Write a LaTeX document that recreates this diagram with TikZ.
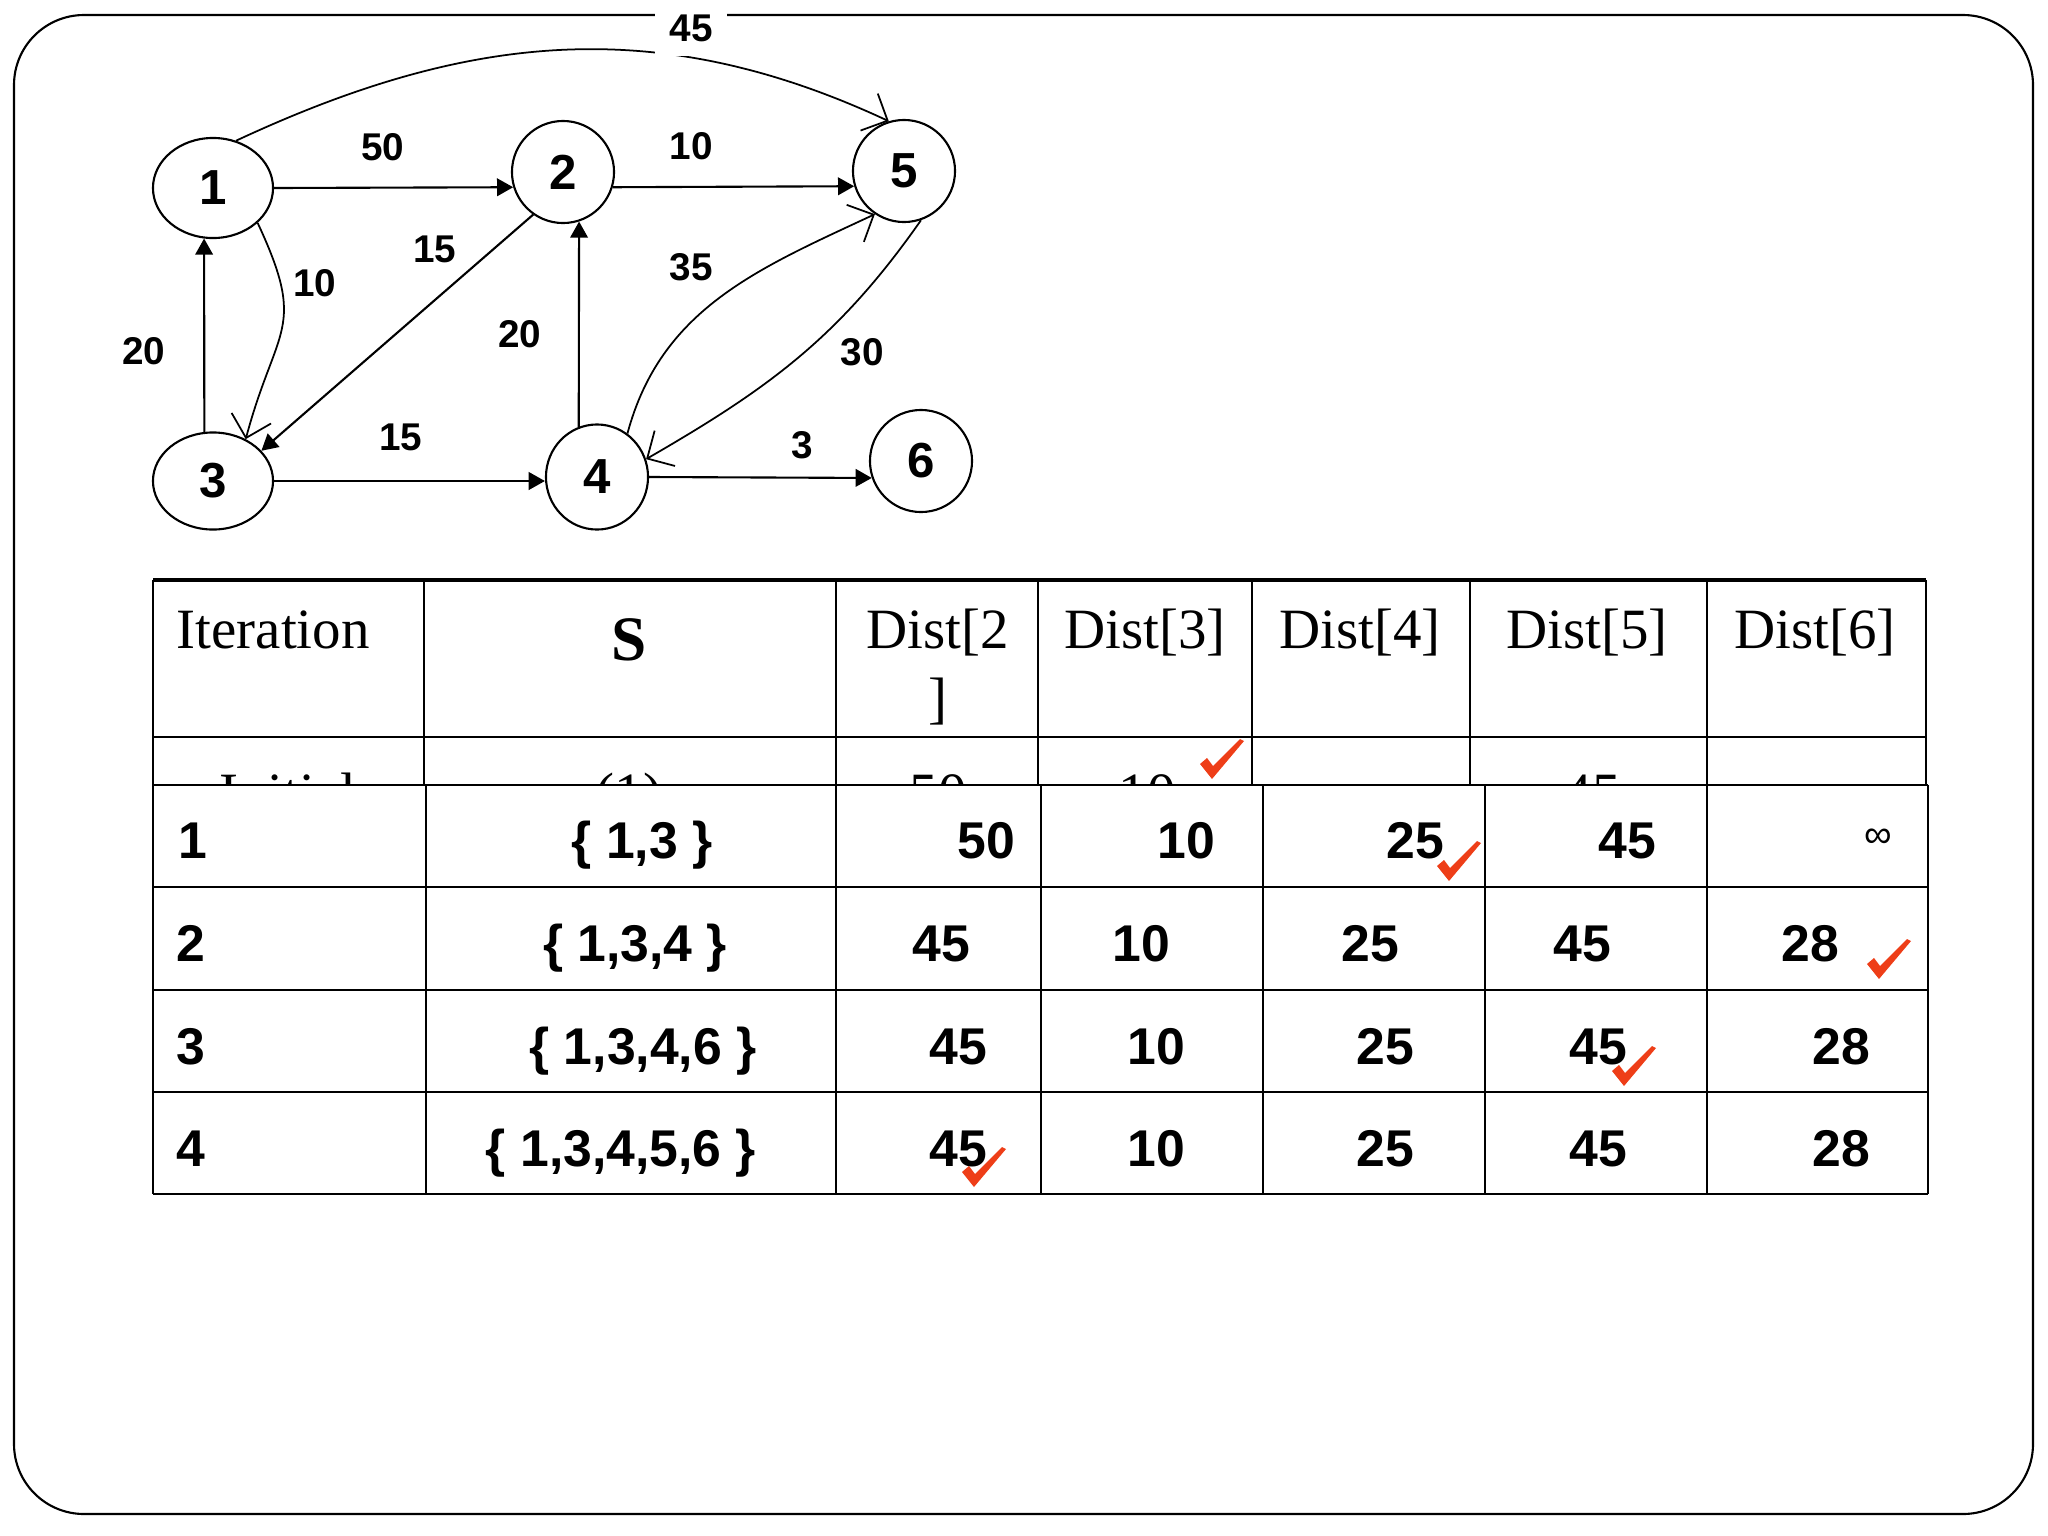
\documentclass[tikz,border=0pt]{standalone}
\usepackage{fontspec}
\setmainfont{Liberation Serif}
\newfontfamily\arialfont{Liberation Sans}
\usetikzlibrary{shapes.geometric, arrows.meta}
\definecolor{tickred}{RGB}{238,62,24}

\tikzset{
  vertex/.style={ellipse, draw, line width=0.6pt, inner sep=0pt, font=\arialfont\bfseries\fontsize{14}{16}\selectfont},
  wt/.style={font=\arialfont\bfseries\fontsize{11}{13}\selectfont, inner sep=1pt},
  fwd/.style={line width=0.6pt, -{Triangle[length=4.6pt,width=5pt]}},
  bent/.style={line width=0.5pt, -{Straight Barb[length=5.8pt,width=11.6pt]}},
  cell/.style={font=\arialfont\bfseries\fontsize{14.7}{17}\selectfont, anchor=base, inner sep=0pt},
  head/.style={font=\fontsize{16.2}{19.5}\selectfont, anchor=base, inner sep=0pt},
  redtick/.pic={\fill[tickred] (-11,-13) -- (-4,-19) -- (2,-11) -- (29,-38) -- (33,-36) -- (1,2) -- cycle;}
}

\begin{document}
\begin{tikzpicture}[x=0.01cm, y=-0.01cm]
    \useasboundingbox (0,0) rectangle (2048,1536);
    % Frame
    \draw[line width=0.6pt, rounded corners=0.7cm] (14,15) rectangle (2033,1514);

    % Draw nodes
    \node[vertex, minimum width=1.2cm, minimum height=1cm] (n1) at (213,188) {1};
    \node[vertex, minimum width=1.02cm, minimum height=1.02cm] (n2) at (563,172) {2};
    \node[vertex, minimum width=1.02cm, minimum height=1.02cm] (n5) at (904,171) {5};
    \node[vertex, minimum width=1.2cm, minimum height=0.97cm] (n3) at (213,481) {3};
    \node[vertex, minimum width=1.02cm, minimum height=1.05cm] (n4) at (597,477) {4};
    \node[vertex, minimum width=1.02cm, minimum height=1.02cm] (n6) at (921,461) {6};

    % Draw connections
    \draw[fwd] (n1.east) -- (n2.197);
    \draw[fwd] (n2.-17) -- (n5.197);
    \draw[fwd] (n3.100) -- (n1.260);
    \draw[fwd] (n4.110) -- (n2.-72);
    \draw[fwd] (n2.235) -- (n3.32);
    \draw[fwd] (n3.east) -- (n3.east -| n4.west);
    \draw[fwd] (n4.east) -- (n6.199);
    \draw[bent] (n1.64) to[out=25, in=155] (n5.107);
    \draw[bent] (n1.-38) to[out=-65, in=75, looseness=1.4] (n3.52);
    \draw[bent] (n4.55) to[out=75, in=205] (n5.236);
    \draw[bent] (n5.-71) to[out=235, in=30] (n4.20);

    % Labels
    \node[wt, fill=white, inner sep=4pt] (w15) at (691,28) {45};
    \node[wt] (w12) at (383,147) {50};
    \node[wt] (w25) at (691,146) {10};
    \node[wt] (w23) at (435,249) {15};
    \node[wt] (w13) at (315,283) {10};
    \node[wt] (w31) at (144,351) {20};
    \node[wt] (w42) at (520,334) {20};
    \node[wt] (w45) at (691,267) {35};
    \node[wt] (w54) at (862,352) {30};
    \node[wt] (w34) at (401,437) {15};
    \node[wt] (w46) at (802,445) {3};

    % Upper table
    \foreach \x in {424,836,1038,1252,1470,1707}
        \draw[line width=0.4pt] (\x,580) -- (\x,880);
    \foreach \x in {153,1926}
        \draw[line width=0.7pt] (\x,580) -- (\x,880);
    \draw[line width=0.9pt] (153,580) -- (1926,580);
    \draw[line width=0.8pt] (153,737) -- (1926,737);

    \node[head, anchor=base west] (hit) at (176,648) {Iteration};
    \node[head, font=\bfseries\fontsize{18}{20}\selectfont] (hs) at (629,660) {S};
    \node[head] (hd2) at (938,648) {Dist[2};
    \node[head] (hd2b) at (938,717) {]};
    \node[head] (hd3) at (1145,648) {Dist[3]};
    \node[head] (hd4) at (1360,648) {Dist[4]};
    \node[head] (hd5) at (1587,648) {Dist[5]};
    \node[head] (hd6) at (1815,648) {Dist[6]};

    \node[head] (i0) at (288,812) {Initial};
    \node[head] (i1) at (629,812) {(1)};
    \node[head] (i2) at (938,812) {50};
    \node[head] (i3) at (1147,812) {10};
    \node[head] (i5) at (1592,812) {45};
    \pic at (1211,777) {redtick};

    % Lower table
    \fill[white] (153,785) rectangle (1928,1194);
    \foreach \y in {785,887,990,1092,1194}
        \draw[line width=0.8pt] (153,\y) -- (1928,\y);
    \foreach \x in {153,426,836,1041,1263,1485,1707,1928}
        \draw[line width=0.8pt] (\x,785) -- (\x,1194);

    \node[cell, anchor=base west] (r1c1) at (178,858) {1};
    \node[cell] (r1c2) at (642,858) {\{ 1,3 \}};
    \node[cell] (r1c3) at (986,858) {50};
    \node[cell] (r1c4) at (1186,858) {10};
    \node[cell] (r1c5) at (1415,858) {25};
    \node[cell] (r1c6) at (1627,858) {45};
    \node[cell, anchor=center, font=\arialfont\fontsize{11}{13}\selectfont] (r1c7) at (1878,838) {∞};

    \node[cell, anchor=base west] (r2c1) at (176,961) {2};
    \node[cell] (r2c2) at (635,961) {\{ 1,3,4 \}};
    \node[cell] (r2c3) at (941,961) {45};
    \node[cell] (r2c4) at (1141,961) {10};
    \node[cell] (r2c5) at (1370,961) {25};
    \node[cell] (r2c6) at (1582,961) {45};
    \node[cell] (r2c7) at (1810,961) {28};

    \node[cell, anchor=base west] (r3c1) at (176,1064) {3};
    \node[cell] (r3c2) at (643,1064) {\{ 1,3,4,6 \}};
    \node[cell] (r3c3) at (958,1064) {45};
    \node[cell] (r3c4) at (1156,1064) {10};
    \node[cell] (r3c5) at (1385,1064) {25};
    \node[cell] (r3c6) at (1598,1064) {45};
    \node[cell] (r3c7) at (1841,1064) {28};

    \node[cell, anchor=base west] (r4c1) at (176,1166) {4};
    \node[cell] (r4c2) at (621,1166) {\{ 1,3,4,5,6 \}};
    \node[cell] (r4c3) at (958,1166) {45};
    \node[cell] (r4c4) at (1156,1166) {10};
    \node[cell] (r4c5) at (1385,1166) {25};
    \node[cell] (r4c6) at (1598,1166) {45};
    \node[cell] (r4c7) at (1841,1166) {28};

    % Ticks
    \pic at (1448,879) {redtick};
    \pic at (1878,977) {redtick};
    \pic at (1623,1084) {redtick};
    \pic at (973,1185) {redtick};
\end{tikzpicture}
\end{document}
